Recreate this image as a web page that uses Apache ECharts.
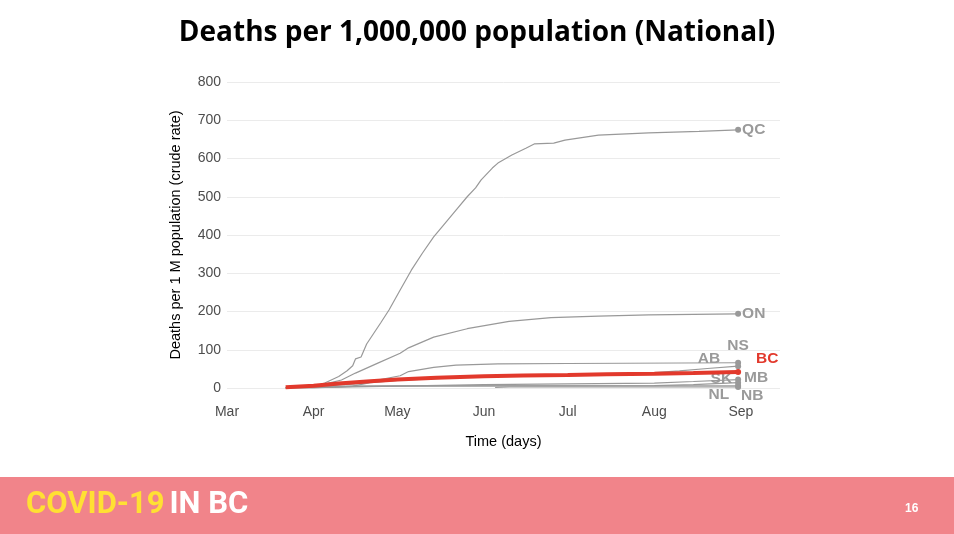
<!DOCTYPE html>
<html>
<head>
<meta charset="utf-8">
<script src="https://cdn.jsdelivr.net/npm/echarts@6/dist/echarts.min.js"></script>
<style>
html,body{margin:0;padding:0;background:#fff;}
#chart{width:954px;height:534px;}
</style>
</head>
<body>
<div id="chart"></div>
<script>
// Deaths per 1,000,000 population, [date, value]
const QC = [['2020-03-22',0.5],['2020-03-26',1.5],['2020-04-01',4],['2020-04-05',13],['2020-04-10',30],['2020-04-13',45],['2020-04-15',58],['2020-04-16',76],['2020-04-18',81],['2020-04-20',115],['2020-04-25',170],['2020-04-28',204],['2020-05-02',256],['2020-05-06',308],['2020-05-10',353],['2020-05-14',395],['2020-05-17',421],['2020-05-22',465],['2020-05-26',500],['2020-05-29',523],['2020-05-31',544],['2020-06-04',575],['2020-06-06',588],['2020-06-11',609],['2020-06-16',627],['2020-06-19',638],['2020-06-26',640],['2020-06-30',648],['2020-07-12',661],['2020-07-30',667],['2020-08-17',671],['2020-08-31',675]];
const ON = [['2020-03-22',0.5],['2020-04-01',4],['2020-04-06',12],['2020-04-11',21],['2020-04-16',39],['2020-04-24',65],['2020-05-02',91],['2020-05-05',105],['2020-05-14',133],['2020-05-26',155],['2020-06-10',174],['2020-06-25',184],['2020-07-12',188],['2020-07-30',191],['2020-08-31',194]];
const NS = [['2020-03-22',0],['2020-04-01',0.5],['2020-04-15',5],['2020-04-20',12],['2020-04-24',21],['2020-05-02',32],['2020-05-05',43],['2020-05-14',54],['2020-05-22',60],['2020-06-06',63],['2020-07-01',64],['2020-08-31',66]];
const AB = [['2020-03-22',1],['2020-04-01',3],['2020-04-15',10],['2020-05-01',20],['2020-06-01',30],['2020-07-01',35],['2020-08-01',40],['2020-08-10',45],['2020-08-20',51],['2020-08-31',57]];
const BC = [['2020-03-22',2],['2020-04-01',6],['2020-04-10',12],['2020-04-20',17],['2020-05-01',22],['2020-05-15',27],['2020-06-01',31],['2020-06-15',33],['2020-07-01',34],['2020-07-15',36],['2020-08-01',37.5],['2020-08-15',39],['2020-08-31',42]];
const SK = [['2020-03-22',0],['2020-04-01',1],['2020-04-15',3],['2020-05-01',5],['2020-06-01',9],['2020-07-01',11],['2020-08-01',13],['2020-08-15',17],['2020-08-31',22]];
const MB = [['2020-03-22',0],['2020-04-01',1],['2020-04-15',4],['2020-05-01',5],['2020-06-01',5.5],['2020-07-01',5.5],['2020-08-01',6],['2020-08-15',9],['2020-08-31',14]];
const NL = [['2020-03-22',0],['2020-04-01',2],['2020-04-15',5],['2020-05-01',5.7],['2020-08-31',5.7]];
const NB = [['2020-06-05',1.3],['2020-06-10',2.6],['2020-08-31',2.6]];

const provinces = [
  {name:'QC', data:QC, pos:'right', off:[0,0]},
  {name:'ON', data:ON, pos:'right', off:[0,0]},
  {name:'NS', data:NS, pos:'top', off:[0,-5]},
  {name:'AB', data:AB, pos:'left', off:[-14,-7]},
  {name:'SK', data:SK, pos:'left', off:[-2,-1]},
  {name:'MB', data:MB, pos:'right', off:[2,-5]},
  {name:'NL', data:NL, pos:'left', off:[-5,9]},
  {name:'NB', data:NB, pos:'right', off:[-1,9]},
  {name:'BC', data:BC, pos:'right', off:[14,-13], red:true}
];
const yTicks = [0,100,200,300,400,500,600,700,800];

const GRAY = '#999999';
const RED = '#e2392c';

function buildSeries(p){
  const last = p.data.length - 1;
  const color = p.red ? RED : GRAY;
  return {
    type:'line',
    name:p.name,
    z: p.red ? 5 : 2,
    symbol:'none',
    showSymbol:true,
    silent:true,
    animation:false,
    lineStyle:{color:color, width:p.red ? 4 : 1.2},
    itemStyle:{color:color},
    label:{show:false},
    data:p.data.map((d,i)=> i===last ? {
      value:d, symbol:'circle', symbolSize:6,
      label:{show:true, formatter:p.name, position:p.pos, distance:1, offset:p.off,
        color: p.red ? RED : '#9a9a9a', fontWeight:'bold', fontSize:15.5, fontFamily:'Liberation Sans'}
    } : {value:d})
  };
}

const chart = echarts.init(document.getElementById('chart'));
chart.setOption({
  backgroundColor:'#fff',
  animation:false,
  title:{
    text:'Deaths per 1,000,000 population (National)',
    left:'center', top:14,
    textStyle:{fontFamily:'Open Sans', fontWeight:'bold', fontSize:28, color:'#000'}
  },
  grid:{left:227, right:174, top:82, bottom:146},
  xAxis:{
    type:'time',
    min:'2020-03-01', max:'2020-09-15',
    minInterval:28*86400000,
    splitNumber:7,
    name:'Time (days)', nameLocation:'middle', nameGap:46,
    nameTextStyle:{fontFamily:'Liberation Sans', fontSize:14.5, color:'#000'},
    axisLine:{show:false}, axisTick:{show:false},
    splitLine:{show:false},
    axisLabel:{formatter:'{MMM}', fontFamily:'Liberation Sans', fontSize:14, color:'#4d4d4d', margin:17}
  },
  yAxis:{
    type:'value', min:yTicks[0], max:yTicks[yTicks.length-1], interval:100,
    name:'Deaths per 1 M population (crude rate)', nameLocation:'middle', nameGap:44,
    nameTextStyle:{fontFamily:'Liberation Sans', fontSize:14.5, color:'#000'},
    axisLine:{show:false}, axisTick:{show:false},
    splitLine:{lineStyle:{color:'#ebebeb', width:1}},
    axisLabel:{fontFamily:'Liberation Sans', fontSize:14, color:'#4d4d4d', margin:6}
  },
  graphic:[
    {type:'rect', left:0, top:477, shape:{width:954, height:57}, style:{fill:'#f1848a'}, z:10},
    {type:'text', x:26, y:505, scaleX:1.0, z:11, style:{
      text:'{y|COVID-19}{s| }{w|IN BC}',
      verticalAlign:'middle',
      rich:{
        y:{fill:'#ffe033', fontFamily:'Roboto', fontWeight:'bold', fontSize:31},
        s:{fontFamily:'Roboto', fontSize:20},
        w:{fill:'#ffffff', fontFamily:'Roboto', fontWeight:'bold', fontSize:31}
      }
    }},
    {type:'text', left:905, top:503, z:11, style:{text:'16', fill:'#ffffff', fontFamily:'Liberation Sans', fontWeight:'bold', fontSize:12}}
  ],
  series: provinces.map(buildSeries)
});
</script>
</body>
</html>
